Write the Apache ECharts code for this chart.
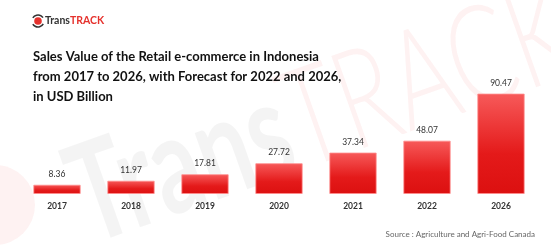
<!DOCTYPE html>
<html><head><meta charset="utf-8">
<script src="https://cdn.jsdelivr.net/npm/echarts@6/dist/echarts.min.js"></script>
<style>html,body{margin:0;padding:0;background:#fff}#c{width:551px;height:251px}</style>
</head><body><div id="c"></div>
<script>
const categories = ['2017','2018','2019','2020','2021','2022','2026'];
const values = [8.36, 11.97, 17.81, 27.72, 37.34, 48.07, 90.47];
const titleLines = ['Sales Value of the Retail e-commerce in Indonesia','from 2017 to 2026, with Forecast for 2022 and 2026,','in USD Billion'];
const sourceText = 'Source : Agriculture and Agri-Food Canada';

const chart = echarts.init(document.getElementById('c'), null, {renderer:'canvas'});
const F = 'Lato, "Open Sans", sans-serif';
chart.setOption({
  animation:false,
  backgroundColor:'#fff',
  grid:{left:20,right:13,top:83,bottom:57},
  xAxis:{type:'category',data:categories,
    axisLine:{show:false},axisTick:{show:false},
    axisLabel:{color:'#333',fontSize:8.5,fontWeight:'bold',fontFamily:F,margin:8}},
  yAxis:{type:'value',min:0,max:100,show:false,splitLine:{show:false}},
  graphic:[
    {type:'text',x:98,y:268,rotation:0.34,scaleY:1.45,z:-10,
      style:{rich:{a:{fill:'rgba(0,0,0,0.045)',font:'bold 95px '+F},b:{fill:'rgba(230,40,40,0.06)',font:'300 95px '+F}},
        text:'{a|Trans}{b|TRACK}',verticalAlign:'bottom'}},
    {type:'circle',shape:{cx:-5,cy:205,r:40},z:-10,style:{fill:'rgba(230,40,40,0.06)'}},
    {type:'circle',shape:{cx:38,cy:21,r:3.8},style:{fill:'#e5322d'}},
    {type:'arc',shape:{cx:38,cy:21,r:6,startAngle:-2.6,endAngle:-0.6},style:{stroke:'#333',lineWidth:1.6,fill:null}},
    {type:'arc',shape:{cx:38,cy:21,r:6,startAngle:0.5,endAngle:2.6},style:{stroke:'#333',lineWidth:1.6,fill:null}},
    {type:'text',left:45,top:15,style:{rich:{a:{fill:'#333',font:'bold 10.5px '+F},b:{fill:'#e5322d',font:'bold 10.5px '+F}},text:'{a|Trans}{b|TRACK}'}},
    {type:'text',left:33,top:47,style:{text:titleLines.join('\n'),font:'bold 13px '+F,fill:'#111',lineHeight:20}},
    {type:'text',right:16,top:230,style:{text:sourceText,font:'8px '+F,fill:'#666'}}
  ],
  series:[{type:'bar',data:values,barCategoryGap:'36%',
    itemStyle:{borderColor:'rgba(255,140,140,0.8)',borderWidth:1,
      color:new echarts.graphic.LinearGradient(0,0,0,1,[{offset:0,color:'#f75a5a'},{offset:0.6,color:'#e41a1a'},{offset:1,color:'#dc1010'}])},
    label:{show:true,position:'top',distance:6,color:'#333',fontSize:8.5,fontFamily:F}
  }]
});
</script></body></html>
